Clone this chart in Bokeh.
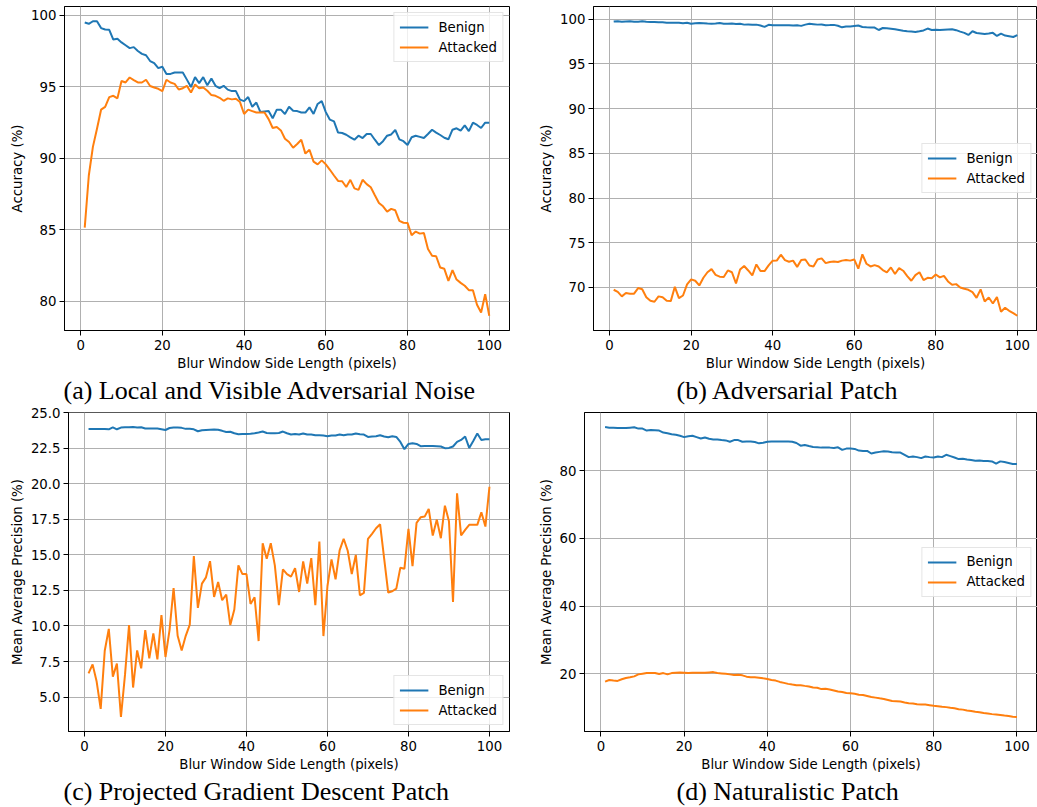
from bokeh.plotting import figure
from bokeh.layouts import column, row
from bokeh.models import Range1d, PrintfTickFormatter, Title, Legend, LegendItem
from bokeh.embed import file_html
from bokeh.resources import INLINE

blur = list(range(1, 101))
x_ticks = [0, 20, 40, 60, 80, 100]
series_names = ["Benign", "Attacked"]
colors = ["#1f77b4", "#ff7f0e"]

a_benign = [99.49, 99.40, 99.58, 99.58, 99.10, 99.00, 98.98, 98.30, 98.35, 98.10,
            97.90, 97.70, 97.77, 97.50, 97.30, 97.20, 96.80, 96.65, 96.30, 96.40,
            95.90, 95.90, 96.00, 96.00, 96.00, 95.50, 94.98, 95.67, 95.26, 95.67,
            95.10, 95.58, 95.07, 94.90, 95.07, 94.80, 94.70, 94.70, 94.10, 94.00,
            94.28, 93.60, 93.90, 93.23, 93.28, 93.30, 92.80, 93.40, 93.40, 93.10,
            93.60, 93.33, 93.30, 93.20, 93.20, 93.56, 93.10, 93.80, 94.00, 93.23,
            92.70, 92.58, 91.80, 91.77, 91.65, 91.47, 91.30, 91.58, 91.42, 91.70,
            91.70, 91.30, 90.93, 91.20, 91.58, 91.67, 91.98, 91.33, 91.20, 90.93,
            91.47, 91.58, 91.50, 91.42, 91.70, 92.00, 91.80, 91.63, 91.44, 91.33,
            92.00, 92.10, 91.93, 92.30, 91.90, 92.49, 92.33, 92.12, 92.49, 92.49]
a_attacked = [85.16, 88.80, 90.80, 92.07, 93.40, 93.60, 94.28, 94.37, 94.19, 95.40,
              95.30, 95.65, 95.47, 95.30, 95.30, 95.49, 95.05, 94.95, 94.86, 94.70,
              95.49, 95.30, 95.20, 94.81, 94.90, 95.07, 94.60, 95.16, 94.90, 94.95,
              94.72, 94.42, 94.37, 94.23, 94.02, 94.19, 94.12, 94.16, 93.93, 93.10,
              93.40, 93.30, 93.20, 93.20, 93.20, 92.74, 92.12, 92.19, 91.95, 91.37,
              91.14, 90.74, 91.00, 91.30, 90.33, 90.60, 89.77, 89.58, 89.86, 89.58,
              89.20, 88.80, 88.42, 88.40, 88.00, 88.50, 87.90, 87.80, 88.50, 88.20,
              87.98, 87.42, 86.88, 86.65, 86.28, 86.47, 86.37, 85.63, 85.50, 85.49,
              84.63, 84.88, 84.74, 84.79, 83.67, 83.20, 83.16, 82.37, 82.28, 81.44,
              82.19, 81.53, 81.30, 81.10, 80.79, 80.79, 79.77, 79.23, 80.51, 79.00]

b_benign = [99.74, 99.78, 99.72, 99.76, 99.78, 99.72, 99.72, 99.78, 99.72, 99.70,
            99.68, 99.66, 99.66, 99.62, 99.60, 99.60, 99.60, 99.55, 99.60, 99.50,
            99.55, 99.58, 99.56, 99.52, 99.50, 99.52, 99.58, 99.50, 99.50, 99.52,
            99.48, 99.50, 99.40, 99.42, 99.38, 99.40, 99.30, 99.15, 99.38, 99.32,
            99.34, 99.34, 99.34, 99.34, 99.30, 99.32, 99.26, 99.40, 99.50, 99.45,
            99.40, 99.42, 99.34, 99.35, 99.37, 99.28, 99.10, 99.18, 99.20, 99.25,
            99.30, 99.14, 99.10, 99.08, 99.07, 98.80, 99.02, 99.00, 98.95, 98.88,
            98.80, 98.72, 98.66, 98.62, 98.58, 98.66, 98.75, 98.96, 98.80, 98.84,
            98.80, 98.84, 98.86, 98.88, 98.78, 98.62, 98.48, 98.25, 98.66, 98.46,
            98.42, 98.36, 98.40, 98.48, 98.13, 98.40, 98.18, 98.10, 98.02, 98.22]
b_attacked = [69.74, 69.50, 69.00, 69.37, 69.30, 69.30, 69.93, 69.80, 68.90, 68.50,
              68.40, 69.00, 68.90, 68.50, 68.47, 70.07, 68.80, 69.10, 70.34, 70.90,
              70.75, 70.22, 71.08, 71.70, 72.05, 71.40, 71.20, 71.16, 71.90, 71.70,
              70.45, 72.00, 72.40, 71.90, 71.34, 72.57, 71.83, 71.83, 72.46, 72.99,
              73.00, 73.66, 73.06, 72.87, 73.00, 72.30, 73.06, 73.13, 72.46, 72.35,
              73.13, 73.25, 72.72, 72.84, 72.90, 72.84, 73.00, 73.06, 73.00, 73.13,
              72.10, 73.70, 72.65, 72.35, 72.50, 72.35, 71.94, 71.68, 72.24, 71.50,
              72.16, 71.87, 71.27, 70.75, 71.38, 71.70, 70.82, 71.08, 71.04, 71.45,
              71.12, 71.30, 70.67, 70.30, 70.37, 70.00, 69.85, 69.74, 69.48, 68.84,
              69.78, 68.43, 68.88, 68.20, 68.92, 67.28, 67.72, 67.39, 67.13, 66.83]

c_benign = [23.85, 23.85, 23.85, 23.85, 23.85, 23.83, 23.97, 23.83, 23.95, 23.97,
            23.97, 23.99, 23.96, 23.97, 23.88, 23.88, 23.88, 23.88, 23.83, 23.78,
            23.92, 23.95, 23.95, 23.93, 23.86, 23.86, 23.83, 23.69, 23.76, 23.78,
            23.80, 23.81, 23.79, 23.72, 23.64, 23.66, 23.55, 23.48, 23.50, 23.50,
            23.52, 23.55, 23.60, 23.67, 23.57, 23.55, 23.55, 23.57, 23.67, 23.55,
            23.46, 23.50, 23.46, 23.53, 23.46, 23.46, 23.41, 23.41, 23.39, 23.34,
            23.39, 23.39, 23.46, 23.41, 23.46, 23.46, 23.53, 23.48, 23.46, 23.29,
            23.32, 23.34, 23.41, 23.32, 23.27, 23.34, 23.29, 22.94, 22.43, 22.80,
            22.85, 22.80, 22.64, 22.66, 22.66, 22.66, 22.64, 22.62, 22.50, 22.52,
            22.62, 22.94, 23.08, 23.32, 22.52, 23.01, 23.53, 23.08, 23.13, 23.13]
c_attacked = [6.67, 7.30, 6.09, 4.17, 8.26, 9.80, 6.44, 7.35, 3.60, 6.56,
              10.06, 5.67, 8.28, 7.02, 9.71, 7.72, 9.47, 7.65, 10.76, 7.82,
              9.71, 12.67, 9.31, 8.28, 9.31, 10.10, 14.91, 11.27, 12.98, 13.42,
              14.56, 12.04, 13.09, 11.81, 12.21, 10.06, 11.16, 14.26, 13.65, 13.65,
              11.55, 12.02, 8.94, 15.82, 14.73, 15.82, 14.26, 11.46, 13.98, 13.65,
              13.47, 14.07, 12.39, 14.54, 12.98, 14.77, 11.46, 15.94, 9.29, 12.81,
              14.68, 13.28, 15.31, 16.13, 15.29, 13.65, 15.00, 12.16, 12.32, 16.13,
              16.48, 16.87, 17.15, 14.73, 12.35, 12.44, 12.63, 14.10, 14.03, 16.83,
              14.21, 17.25, 17.64, 17.69, 18.23, 16.36, 17.48, 16.17, 18.46, 17.36,
              11.69, 19.33, 16.36, 16.76, 17.11, 17.11, 17.11, 17.99, 16.99, 19.79]

d_benign = [92.98, 92.79, 92.79, 92.69, 92.69, 92.69, 92.79, 92.89, 92.50, 92.50,
            91.92, 92.11, 92.02, 91.92, 91.34, 91.14, 90.85, 90.66, 90.37, 89.98,
            90.27, 90.37, 89.98, 89.59, 89.88, 89.50, 89.30, 89.30, 89.11, 89.01,
            88.62, 89.11, 89.11, 88.62, 88.72, 88.72, 88.53, 88.14, 88.33, 88.62,
            88.72, 88.72, 88.72, 88.72, 88.72, 88.62, 88.24, 87.46, 87.66, 87.36,
            87.07, 86.98, 86.88, 86.88, 86.88, 86.78, 86.98, 86.20, 86.59, 86.59,
            86.49, 86.01, 85.91, 85.91, 85.14, 85.43, 85.62, 85.81, 85.72, 85.52,
            85.43, 85.43, 84.75, 84.07, 84.26, 84.07, 83.78, 84.26, 84.07, 83.97,
            84.26, 84.07, 84.75, 84.36, 83.97, 83.49, 83.59, 83.39, 83.20, 83.00,
            83.10, 82.91, 82.91, 82.81, 82.13, 82.81, 82.62, 82.33, 82.03, 82.03]
d_attacked = [17.67, 18.16, 17.97, 17.87, 18.35, 18.74, 18.93, 19.22, 19.81, 20.00,
              20.19, 20.19, 20.19, 19.90, 20.19, 19.81, 20.19, 20.29, 20.39, 20.29,
              20.19, 20.29, 20.29, 20.29, 20.29, 20.39, 20.48, 20.19, 20.10, 20.00,
              19.81, 19.61, 19.71, 19.52, 19.13, 18.93, 18.93, 18.84, 18.64, 18.45,
              18.16, 17.97, 17.58, 17.29, 17.00, 16.80, 16.61, 16.61, 16.41, 16.22,
              15.93, 15.83, 15.45, 15.54, 15.35, 15.06, 14.77, 14.57, 14.28, 14.19,
              14.09, 13.80, 13.70, 13.41, 13.12, 12.93, 12.73, 12.54, 12.25, 11.96,
              11.86, 11.76, 11.47, 11.28, 11.18, 10.99, 10.89, 10.89, 10.70, 10.50,
              10.40, 10.22, 10.12, 9.92, 9.78, 9.52, 9.38, 9.15, 9.00, 8.78,
              8.62, 8.37, 8.25, 8.05, 7.95, 7.79, 7.62, 7.48, 7.30, 7.20]

a_yticks = [80, 85, 90, 95, 100]
b_yticks = [70, 75, 80, 85, 90, 95, 100]
c_yticks = [5.0, 7.5, 10.0, 12.5, 15.0, 17.5, 20.0, 22.5, 25.0]
d_yticks = [20, 40, 60, 80]

xlabel = "Blur Window Side Length (pixels)"
captions = ["(a) Local and Visible Adversarial Noise", "(b) Adversarial Patch",
            "(c) Projected Gradient Descent Patch", "(d) Naturalistic Patch"]

FONT = "DejaVu Sans"
FSIZE = "13.3px"


def panel(benign, attacked, ylabel, yticks, yfmt, legend_pos, caption, cap_offset,
          width, height, bl, br, bt, bb):
    allv = benign + attacked
    lo, hi = min(allv), max(allv)
    pad = 0.05 * (hi - lo)
    xpad = 0.05 * (max(blur) - min(blur))
    p = figure(width=width, height=height, output_backend="svg", toolbar_location=None,
               x_range=Range1d(min(blur) - xpad, max(blur) + xpad),
               y_range=Range1d(lo - pad, hi + pad),
               min_border_left=bl, min_border_right=br, min_border_top=bt, min_border_bottom=bb)
    p.background_fill_color = "white"
    p.border_fill_color = "white"
    p.outline_line_color = "black"
    p.outline_line_width = 1
    r1 = p.line(blur, benign, line_color=colors[0], line_width=2)
    r2 = p.line(blur, attacked, line_color=colors[1], line_width=2)
    p.xaxis.ticker = x_ticks
    p.yaxis.ticker = yticks
    if yfmt:
        p.yaxis.formatter = PrintfTickFormatter(format=yfmt)
    for ax in (p.xaxis[0], p.yaxis[0]):
        ax.major_tick_out = 5
        ax.major_tick_in = 0
        ax.minor_tick_out = 0
        ax.minor_tick_in = 0
        ax.axis_line_color = "black"
        ax.major_tick_line_color = "black"
        ax.major_label_text_font = FONT
        ax.major_label_text_font_size = FSIZE
        ax.major_label_text_color = "black"
        ax.axis_label_text_font = FONT
        ax.axis_label_text_font_size = FSIZE
        ax.axis_label_text_font_style = "normal"
        ax.axis_label_text_color = "black"
    p.xaxis.axis_label = xlabel
    p.yaxis.axis_label = ylabel
    p.xaxis.major_label_standoff = 4
    p.xaxis.axis_label_standoff = 3
    p.yaxis.major_label_standoff = 3
    p.yaxis.axis_label_standoff = 3
    p.xgrid.grid_line_color = "#b0b0b0"
    p.ygrid.grid_line_color = "#b0b0b0"
    p.xgrid.grid_line_width = 1
    p.ygrid.grid_line_width = 1
    legend = Legend(items=[LegendItem(label=series_names[0], renderers=[r1]),
                           LegendItem(label=series_names[1], renderers=[r2])],
                    location=legend_pos)
    legend.label_text_font = FONT
    legend.label_text_font_size = FSIZE
    legend.label_text_color = "black"
    legend.border_line_color = "#cccccc"
    legend.border_line_width = 1
    legend.background_fill_alpha = 0.8
    legend.glyph_width = 29
    legend.glyph_height = 18
    legend.label_height = 18
    legend.label_standoff = 10
    legend.padding = 5
    legend.spacing = 2
    legend.margin = 6
    p.add_layout(legend)
    cap = Title(text=caption, align="left", offset=cap_offset, text_font="Liberation Serif",
                text_font_size="26px", text_font_style="normal", text_color="black", standoff=0)
    p.add_layout(cap, "below")
    return p


pa = panel(a_benign, a_attacked, "Accuracy (%)", a_yticks, None, "top_right", captions[0], -1,
           530, 405, 64, 21, 6, 75)
pb = panel(b_benign, b_attacked, "Accuracy (%)", b_yticks, None, "center_right", captions[1], 83,
           507, 405, 63, 0, 6, 75)
pc = panel(c_benign, c_attacked, "Mean Average Precision (%)", c_yticks, "%.1f", "bottom_right",
           captions[2], -5, 530, 402, 68, 21, 7, 76)
pd_ = panel(d_benign, d_attacked, "Mean Average Precision (%)", d_yticks, None, "center_right",
            captions[3], 92, 507, 402, 54, 0, 2, 76)

layout = column(row(pa, pb), row(pc, pd_))
open("out.html", "w").write(file_html(layout, INLINE))
